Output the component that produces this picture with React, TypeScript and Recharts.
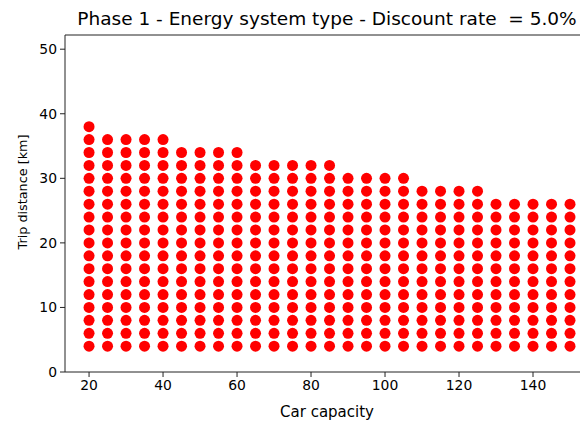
import { ScatterChart, Scatter, XAxis, YAxis, ReferenceLine } from "recharts";

// car capacities on the x axis
const capacities = [
  20, 25, 30, 35, 40, 45, 50, 55, 60, 65, 70, 75, 80, 85, 90, 95, 100, 105,
  110, 115, 120, 125, 130, 135, 140, 145, 150,
];

// highest feasible trip distance for each capacity
const maxDistances = [
  38, 36, 36, 36, 36, 34, 34, 34, 34, 32, 32, 32, 32, 32, 30, 30, 30, 30,
  28, 28, 28, 28, 26, 26, 26, 26, 26,
];

const minDistance = 4;
const distanceStep = 2;

const xTicks = [20, 40, 60, 80, 100, 120, 140];
const yTicks = [0, 10, 20, 30, 40, 50];

const points: { capacity: number; distance: number }[] = [];
capacities.forEach((c, i) => {
  for (let d = minDistance; d <= maxDistances[i]; d += distanceStep) {
    points.push({ capacity: c, distance: d });
  }
});

const FONT = "'DejaVu Sans', sans-serif";

const Dot = (props: any) => (
  <circle cx={props.cx} cy={props.cy} r={5.5} fill="#ff0000" />
);

export default function App() {
  return (
    <div
      style={{
        position: "absolute",
        left: 0,
        top: 0,
        width: 580,
        height: 423,
        overflow: "hidden",
        background: "#fff",
        fontFamily: FONT,
      }}
    >
      <div
        style={{
          position: "absolute",
          top: 8,
          left: 327,
          transform: "translateX(-50%)",
          whiteSpace: "pre",
          fontSize: 18.5,
          color: "#000",
        }}
      >
        {"Phase 1 - Energy system type - Discount rate  = 5.0%"}
      </div>
      <div
        style={{
          position: "absolute",
          top: 403,
          left: 327,
          transform: "translateX(-50%)",
          whiteSpace: "nowrap",
          fontSize: 15,
          color: "#000",
        }}
      >
        Car capacity
      </div>
      <div
        style={{
          position: "absolute",
          top: 192,
          left: 21.5,
          transform: "translate(-50%, -50%) rotate(-90deg)",
          whiteSpace: "nowrap",
          fontSize: 12.8,
          color: "#000",
        }}
      >
        Trip distance [km]
      </div>
      <ScatterChart
        width={580}
        height={423}
        margin={{ top: 35, right: 0, bottom: 0, left: 0 }}
      >
        <XAxis
          type="number"
          dataKey="capacity"
          domain={[13.5, 152.7]}
          ticks={xTicks}
          allowDataOverflow
          height={51}
          tickSize={5}
          tickMargin={3}
          axisLine={{ stroke: "#222", strokeWidth: 1 }}
          tickLine={{ stroke: "#222" }}
          tick={{ fill: "#000", fontSize: 13.9, fontFamily: FONT }}
        />
        <YAxis
          type="number"
          dataKey="distance"
          domain={[0, 52.2]}
          ticks={yTicks}
          allowDataOverflow
          width={65}
          tickSize={5}
          tickMargin={3}
          axisLine={{ stroke: "#222", strokeWidth: 1 }}
          tickLine={{ stroke: "#222" }}
          tick={{ fill: "#000", fontSize: 13.9, fontFamily: FONT }}
        />
        <ReferenceLine y={52.2} stroke="#222" strokeWidth={1} />
        <Scatter
          data={points}
          shape={Dot}
          isAnimationActive={false}
        />
      </ScatterChart>
    </div>
  );
}
